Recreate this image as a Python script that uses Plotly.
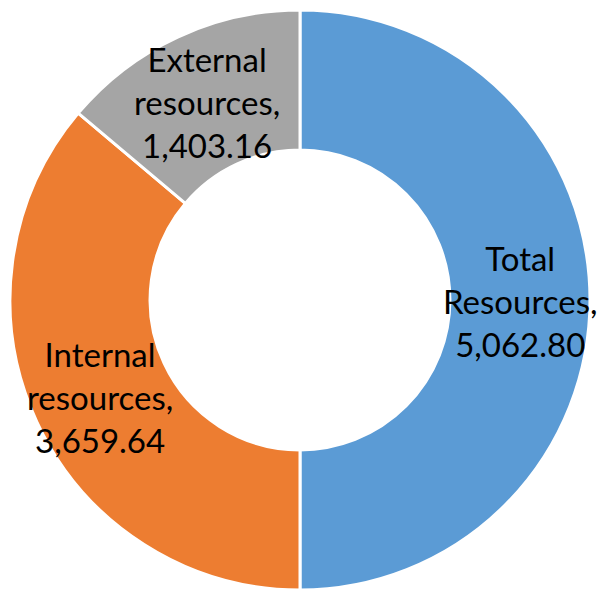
import plotly.graph_objects as go

labels = ["Total Resources", "Internal resources", "External resources"]
label_lines = [["Total", "Resources,"], ["Internal", "resources,"], ["External", "resources,"]]
values = [5062.80, 3659.64, 1403.16]
colors = ["#5B9BD5", "#ED7D31", "#A5A5A5"]
# label centres in pixels (x, y from top)
label_pos = [(520, 301), (100, 397), (207, 102)]

W, H = 600, 592

fig = go.Figure(go.Pie(
    labels=labels,
    values=values,
    hole=0.517,
    sort=False,
    direction="clockwise",
    rotation=0,
    marker=dict(colors=colors, line=dict(color="white", width=3)),
    textinfo="none",
    hoverinfo="label+value",
    showlegend=False,
    domain=dict(x=[10 / W, 590 / W], y=[2 / H, 582 / H]),
))

for lines, v, (px, py) in zip(label_lines, values, label_pos):
    fig.add_annotation(
        x=px / W, y=1 - py / H, xref="paper", yref="paper",
        text="<br>".join(lines + [f"{v:,.2f}"]),
        showarrow=False, xanchor="center", yanchor="middle",
        font=dict(family="Lato", size=33, color="#000000"),
    )

fig.update_layout(
    width=W, height=H,
    margin=dict(l=0, r=0, t=0, b=0),
    paper_bgcolor="white", plot_bgcolor="white",
)

fig.write_html("out.html")
